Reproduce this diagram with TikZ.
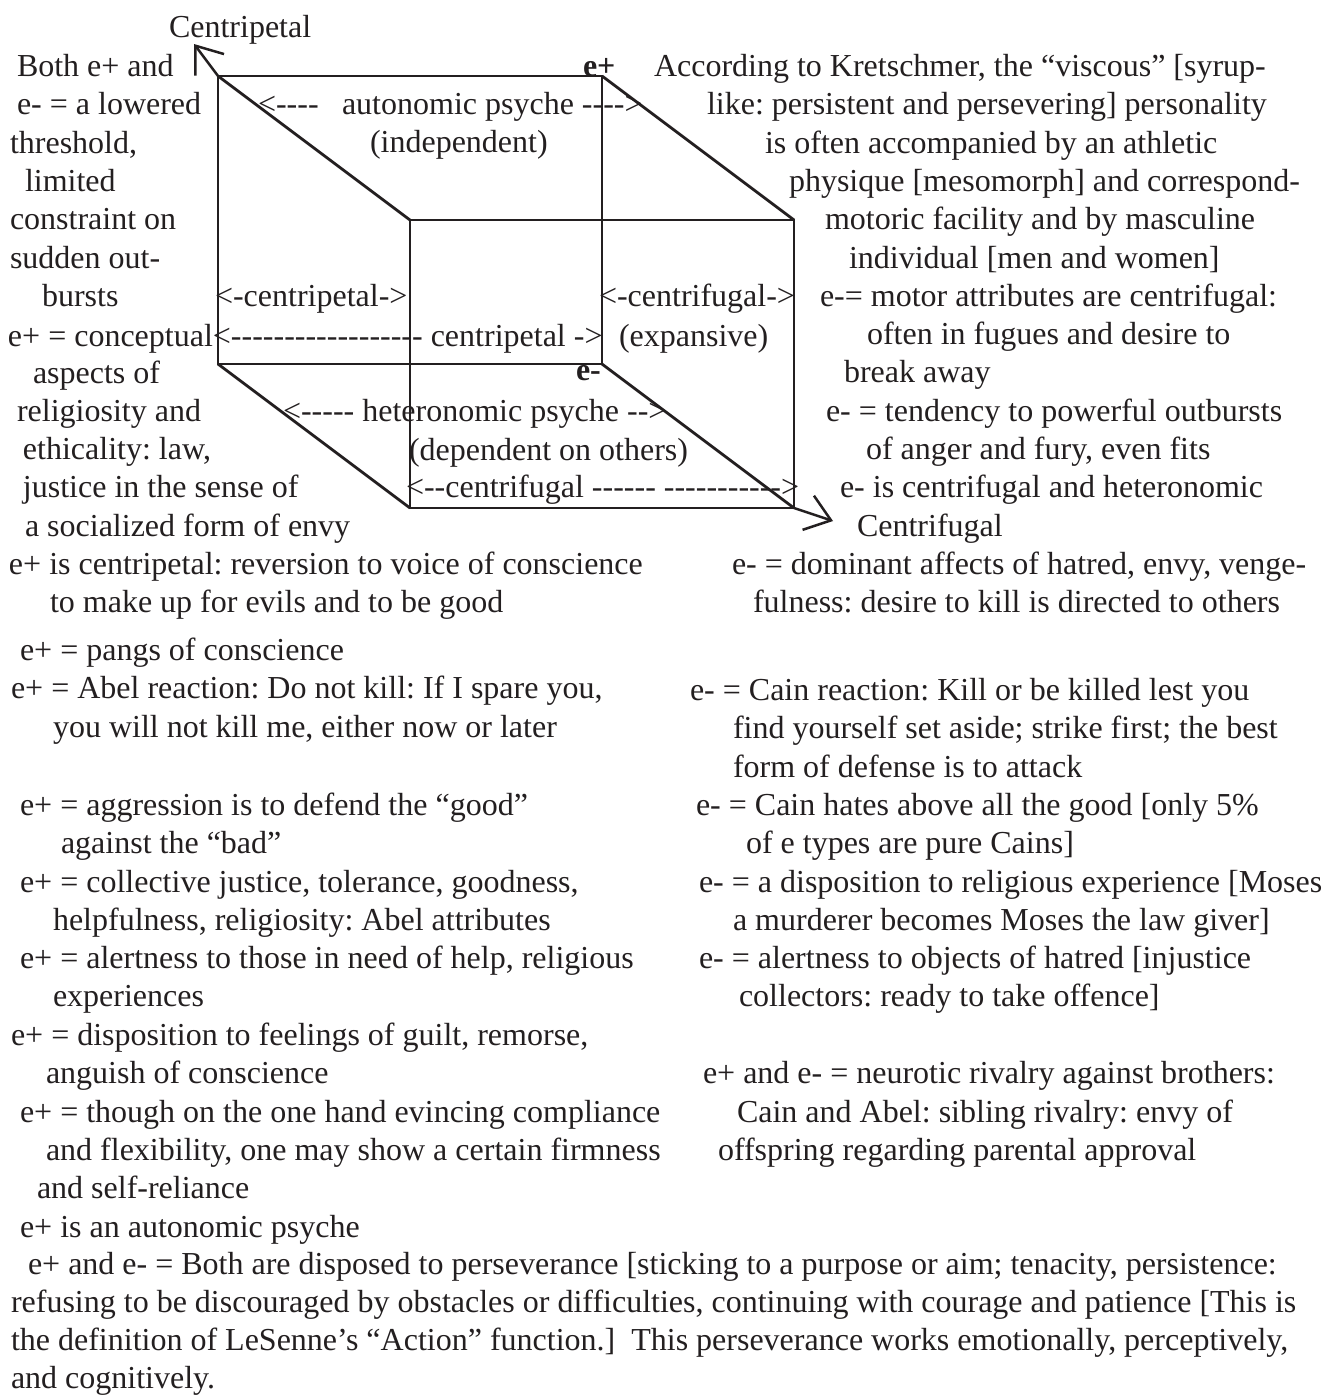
\documentclass[tikz,border=0pt]{standalone}
\usepackage{fontspec}
\newfontfamily\tnr{Liberation Serif}
\usetikzlibrary{arrows.meta}
\definecolor{ink}{RGB}{35,31,32}
\newcommand\T[4]{\node[tx] (#1) at (#2,#3) {#4};}
\frenchspacing
\begin{document}
\begin{tikzpicture}[x=1pt,y=-1pt,
  tx/.style={font=\tnr\frenchspacing\fontsize{32}{38}\selectfont, anchor=base west, inner sep=0pt, outer sep=0pt, text=ink},
  bx/.style={tx, font=\tnr\bfseries\fontsize{32}{38}\selectfont},
  edge/.style={draw=ink, line width=2.8pt, line join=miter},
  arr/.style={draw=ink, line width=2.5pt, -{Straight Barb[length=24pt,width=36pt,line width=2.5pt]}}]
\useasboundingbox (0,0) rectangle (1325,1395);
% cube corners
\coordinate (BTL) at (218,76);
\coordinate (BTR) at (602,76);
\coordinate (BBR) at (602,364);
\coordinate (BBL) at (218,364);
\coordinate (FTL) at (410,220);
\coordinate (FTR) at (794,220);
\coordinate (FBR) at (794,508);
\coordinate (FBL) at (410,508);
\coordinate (cpt) at (194,44);
\coordinate (cft) at (833,521);
\draw[edge] (BTL) -- (BTR) -- (BBR) -- (BBL) -- cycle;
\draw[edge] (FTL) -- (FTR) -- (FBR) -- (FBL) -- cycle;
\draw[edge] (BTL) -- (FTL);
\draw[edge] (BTR) -- (FTR);
\draw[edge] (BBL) -- (FBL);
\draw[edge] (BBR) -- (FBR);
\draw[arr] (BTL) -- (cpt);
\draw[arr] (FBR) -- (cft);
% labels in cube
\T{cp}{169}{37}{Centripetal}
\node[bx] (ep) at (583,76) {e+};
\node[bx] (em) at (576,380) {e-};
\T{c1}{258}{114}{<----}
\T{c2}{342}{114}{autonomic psyche ---->}
\T{c3}{370}{152}{(independent)}
\T{c4}{215}{306}{<-centripetal->}
\T{c5}{599}{306}{<-centrifugal->}
\T{c6}{619}{346}{(expansive)}
\T{c8}{283}{421}{<----- heteronomic psyche -->}
\T{c9}{409}{460}{(dependent on others)}
\T{c10}{406}{497}{<--centrifugal ------ ----------->}
% left column
\T{l1}{17}{76}{Both e+ and}
\T{l2}{17}{114}{e- = a lowered}
\T{l3}{10}{153}{threshold,}
\T{l4}{25}{191}{limited}
\T{l5}{10}{229}{constraint on}
\T{l6}{10}{268}{sudden out-}
\T{l7}{42}{306}{bursts}
\T{l8}{8}{346}{e+ = conceptual<------------------ centripetal ->}
\T{l9}{33}{383}{aspects of}
\T{l10}{17}{421}{religiosity and}
\T{l11}{23}{459}{ethicality: law,}
\T{l12}{23}{497}{justice in the sense of}
\T{l13}{25}{536}{a socialized form of envy}
\T{l14}{9}{574}{e+ is centripetal: reversion to voice of conscience}
\T{l15}{50}{612}{to make up for evils and to be good}
\T{l16}{20}{660}{e+ = pangs of conscience}
\T{l17}{11}{698}{e+ = Abel reaction: Do not kill: If I spare you,}
\T{l18}{53}{737}{you will not kill me, either now or later}
\T{l19}{20}{815}{e+ = aggression is to defend the “good”}
\T{l20}{61}{853}{against the “bad”}
\T{l21}{20}{892}{e+ = collective justice, tolerance, goodness,}
\T{l22}{53}{930}{helpfulness, religiosity: Abel attributes}
\T{l23}{20}{968}{e+ = alertness to those in need of help, religious}
\T{l24}{53}{1006}{experiences}
\T{l25}{11}{1045}{e+ = disposition to feelings of guilt, remorse,}
\T{l26}{46}{1083}{anguish of conscience}
\T{l27}{20}{1122}{e+ = though on the one hand evincing compliance}
\T{l28}{46}{1160}{and flexibility, one may show a certain firmness}
\T{l29}{37}{1198}{and self-reliance}
\T{l30}{20}{1237}{e+ is an autonomic psyche}
\T{b1}{28}{1274}{e+ and e- = Both are disposed to perseverance [sticking to a purpose or aim; tenacity, persistence:}
\T{b2}{11}{1312}{refusing to be discouraged by obstacles or difficulties, continuing with courage and patience [This is}
\T{b3}{11}{1350}{the definition of LeSenne’s “Action” function.]\ \ This perseverance works emotionally, perceptively,}
\T{b4}{11}{1388}{and cognitively.}
% right column
\T{r1}{654}{76}{According to Kretschmer, the “viscous” [syrup-}
\T{r2}{707}{114}{like: persistent and persevering] personality}
\T{r3}{765}{153}{is often accompanied by an athletic}
\T{r4}{789}{191}{physique [mesomorph] and correspond-}
\T{r5}{825}{229}{motoric facility and by masculine}
\T{r6}{849}{268}{individual [men and women]}
\T{r7}{820}{306}{e-= motor attributes are centrifugal:}
\T{r8}{867}{344}{often in fugues and desire to}
\T{r9}{844}{382}{break away}
\T{r10}{826}{421}{e- = tendency to powerful outbursts}
\T{r11}{866}{459}{of anger and fury, even fits}
\T{r12}{840}{497}{e- is centrifugal and heteronomic}
\T{r13}{857}{536}{Centrifugal}
\T{r14}{732}{574}{e- = dominant affects of hatred, envy, venge-}
\T{r15}{753}{612}{fulness: desire to kill is directed to others}
\T{r16}{690}{700}{e- = Cain reaction: Kill or be killed lest you}
\T{r17}{733}{738}{find yourself set aside; strike first; the best}
\T{r18}{733}{777}{form of defense is to attack}
\T{r19}{696}{815}{e- = Cain hates above all the good [only 5\%}
\T{r20}{746}{853}{of e types are pure Cains]}
\T{r21}{699}{892}{e- = a disposition to religious experience [Moses}
\T{r22}{733}{930}{a murderer becomes Moses the law giver]}
\T{r23}{699}{968}{e- = alertness to objects of hatred [injustice}
\T{r24}{739}{1006}{collectors: ready to take offence]}
\T{r25}{703}{1083}{e+ and e- = neurotic rivalry against brothers:}
\T{r26}{737}{1122}{Cain and Abel: sibling rivalry: envy of}
\T{r27}{718}{1160}{offspring regarding parental approval}
\end{tikzpicture}
\end{document}
